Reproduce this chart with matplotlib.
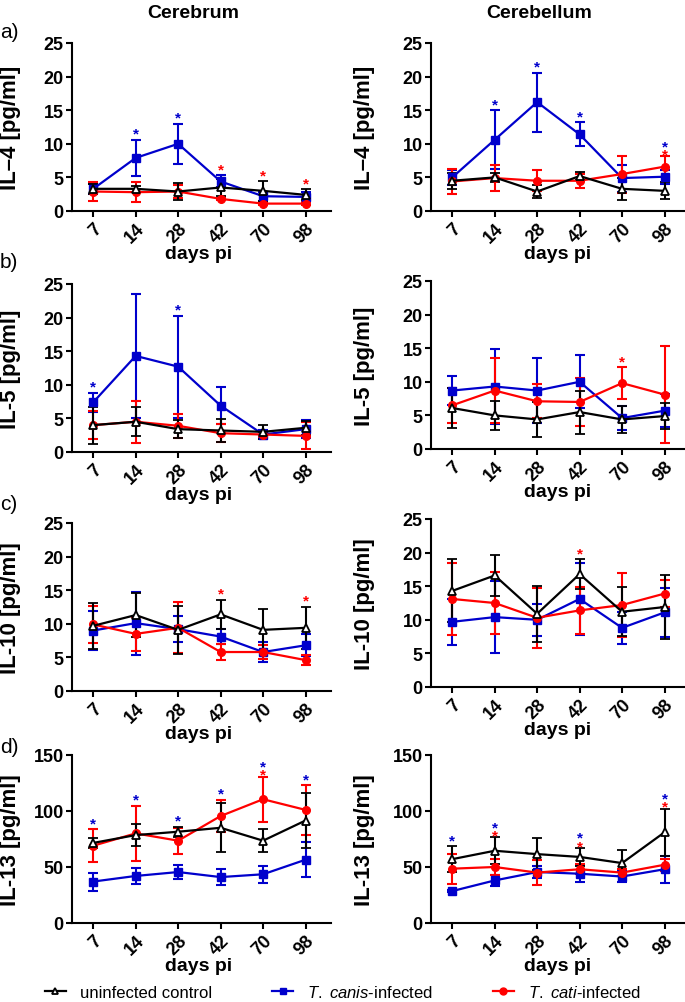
import matplotlib.pyplot as plt
from matplotlib.lines import Line2D
import numpy as np

plt.rcParams['font.family'] = ['Liberation Sans', 'DejaVu Sans']
plt.rcParams['mathtext.fontset'] = 'custom'
plt.rcParams['mathtext.rm'] = 'Liberation Sans'
plt.rcParams['mathtext.it'] = 'Liberation Sans:italic'

days = ['7', '14', '28', '42', '70', '98']

# IL-4, cerebrum
il4_cbr_ctrl = [3.3, 3.3, 2.9, 3.5, 3.0, 2.4]
il4_cbr_ctrl_sd = [0.7, 0.45, 1.2, 1.2, 1.45, 0.8]
il4_cbr_canis = [3.3, 7.9, 10.0, 4.4, 2.2, 2.1]
il4_cbr_canis_sd = [0.7, 2.7, 3.0, 0.9, 0.7, 0.7]
il4_cbr_cati = [2.9, 2.8, 2.9, 1.8, 1.1, 1.1]
il4_cbr_cati_sd = [1.35, 1.5, 1.0, 0.15, 0.2, 0.25]
il4_cbr_sig_canis = [1, 2]
il4_cbr_sig_cati = [3, 4, 5]

# IL-4, cerebellum
il4_cbl_ctrl = [4.5, 5.0, 2.9, 5.2, 3.3, 3.0]
il4_cbl_ctrl_sd = [1.2, 0.7, 1.0, 0.65, 1.6, 1.25]
il4_cbl_canis = [5.0, 10.6, 16.2, 11.4, 4.9, 5.1]
il4_cbl_canis_sd = [1.1, 4.4, 4.4, 1.8, 2.0, 1.05]
il4_cbl_cati = [4.4, 4.9, 4.5, 4.5, 5.5, 6.6]
il4_cbl_cati_sd = [1.9, 1.95, 1.55, 1.05, 2.75, 1.55]
il4_cbl_sig_canis = [1, 2, 3, 5]
il4_cbl_sig_cati = [5]

# IL-5, cerebrum
il5_cbr_ctrl = [4.0, 4.5, 3.4, 3.2, 3.0, 3.6]
il5_cbr_ctrl_sd = [2.75, 2.15, 1.35, 1.75, 1.0, 1.0]
il5_cbr_canis = [7.4, 14.3, 12.7, 6.9, 2.6, 3.4]
il5_cbr_canis_sd = [1.4, 9.2, 7.6, 2.75, 0.65, 1.3]
il5_cbr_cati = [4.0, 4.5, 3.9, 2.8, 2.6, 2.4]
il5_cbr_cati_sd = [2.1, 3.15, 1.75, 1.35, 0.4, 2.0]
il5_cbr_sig_canis = [0, 2]
il5_cbr_sig_cati = []

# IL-5, cerebellum
il5_cbl_ctrl = [6.1, 5.0, 4.4, 5.5, 4.4, 4.9]
il5_cbl_ctrl_sd = [3.0, 2.15, 2.6, 3.2, 1.95, 1.9]
il5_cbl_canis = [8.7, 9.3, 8.7, 10.0, 4.6, 5.7]
il5_cbl_canis_sd = [2.1, 5.6, 4.85, 3.95, 1.8, 2.45]
il5_cbl_cati = [6.5, 8.7, 7.1, 7.0, 9.8, 8.1]
il5_cbl_cati_sd = [2.65, 4.8, 2.5, 3.6, 2.35, 7.2]
il5_cbl_sig_canis = []
il5_cbl_sig_cati = [4]

# IL-10, cerebrum
il10_cbr_ctrl = [9.7, 11.3, 9.1, 11.4, 9.1, 9.4]
il10_cbr_ctrl_sd = [3.4, 3.25, 3.55, 2.2, 3.15, 3.15]
il10_cbr_canis = [9.0, 10.1, 9.2, 8.1, 5.8, 6.8]
il10_cbr_canis_sd = [2.9, 4.7, 1.9, 1.1, 1.55, 1.65]
il10_cbr_cati = [9.9, 8.5, 9.4, 5.8, 5.8, 4.6]
il10_cbr_cati_sd = [2.75, 2.55, 3.8, 1.2, 1.05, 0.75]
il10_cbr_sig_canis = []
il10_cbr_sig_cati = [3, 5]

# IL-10, cerebellum
il10_cbl_ctrl = [14.3, 16.6, 10.9, 16.8, 11.2, 11.9]
il10_cbl_ctrl_sd = [4.7, 3.1, 4.15, 2.2, 3.65, 4.75]
il10_cbl_canis = [9.7, 10.4, 10.0, 13.1, 8.8, 11.1]
il10_cbl_canis_sd = [3.4, 5.35, 2.35, 5.3, 2.4, 3.65]
il10_cbl_cati = [13.1, 12.5, 10.3, 11.4, 12.2, 13.9]
il10_cbl_cati_sd = [5.4, 4.65, 4.5, 3.5, 4.7, 2.05]
il10_cbl_sig_canis = []
il10_cbl_sig_cati = [3]

# IL-13, cerebrum
il13_cbr_ctrl = [71.5, 78.5, 81.5, 85.0, 73.5, 91.5]
il13_cbr_ctrl_sd = [4.5, 9.5, 4.5, 22.0, 10.5, 24.5]
il13_cbr_canis = [37.0, 42.0, 45.5, 41.0, 43.5, 56.5]
il13_cbr_canis_sd = [8.0, 7.0, 6.5, 7.0, 7.5, 15.5]
il13_cbr_cati = [69.0, 80.0, 73.5, 95.5, 110.5, 101.0]
il13_cbr_cati_sd = [14.5, 24.5, 11.5, 14.5, 20.0, 22.0]
il13_cbr_sig_canis = [0, 1, 2, 3, 4, 5]
il13_cbr_sig_cati = [4]

# IL-13, cerebellum
il13_cbl_ctrl = [57.0, 64.5, 61.5, 59.0, 53.5, 81.0]
il13_cbl_ctrl_sd = [11.5, 12.0, 14.5, 8.0, 11.5, 21.0]
il13_cbl_canis = [28.5, 38.0, 45.5, 44.0, 41.5, 48.0]
il13_cbl_canis_sd = [0.8, 5.0, 5.5, 7.5, 4.5, 12.0]
il13_cbl_cati = [48.5, 50.0, 45.0, 48.0, 45.0, 52.0]
il13_cbl_cati_sd = [13.5, 7.5, 11.0, 4.5, 3.0, 5.5]
il13_cbl_sig_canis = [0, 1, 3, 5]
il13_cbl_sig_cati = [1, 3, 5]

ylabels = ['IL\u20134 [pg/ml]', 'IL-5 [pg/ml]', 'IL-10 [pg/ml]', 'IL-13 [pg/ml]']
ymax = [25, 25, 25, 150]
ystep = [5, 5, 5, 50]
letters = ['a)', 'b)', 'c)', 'd)']

panels = [
    [(il4_cbr_ctrl, il4_cbr_ctrl_sd, il4_cbr_canis, il4_cbr_canis_sd, il4_cbr_cati, il4_cbr_cati_sd, il4_cbr_sig_canis, il4_cbr_sig_cati),
     (il4_cbl_ctrl, il4_cbl_ctrl_sd, il4_cbl_canis, il4_cbl_canis_sd, il4_cbl_cati, il4_cbl_cati_sd, il4_cbl_sig_canis, il4_cbl_sig_cati)],
    [(il5_cbr_ctrl, il5_cbr_ctrl_sd, il5_cbr_canis, il5_cbr_canis_sd, il5_cbr_cati, il5_cbr_cati_sd, il5_cbr_sig_canis, il5_cbr_sig_cati),
     (il5_cbl_ctrl, il5_cbl_ctrl_sd, il5_cbl_canis, il5_cbl_canis_sd, il5_cbl_cati, il5_cbl_cati_sd, il5_cbl_sig_canis, il5_cbl_sig_cati)],
    [(il10_cbr_ctrl, il10_cbr_ctrl_sd, il10_cbr_canis, il10_cbr_canis_sd, il10_cbr_cati, il10_cbr_cati_sd, il10_cbr_sig_canis, il10_cbr_sig_cati),
     (il10_cbl_ctrl, il10_cbl_ctrl_sd, il10_cbl_canis, il10_cbl_canis_sd, il10_cbl_cati, il10_cbl_cati_sd, il10_cbl_sig_canis, il10_cbl_sig_cati)],
    [(il13_cbr_ctrl, il13_cbr_ctrl_sd, il13_cbr_canis, il13_cbr_canis_sd, il13_cbr_cati, il13_cbr_cati_sd, il13_cbr_sig_canis, il13_cbr_sig_cati),
     (il13_cbl_ctrl, il13_cbl_ctrl_sd, il13_cbl_canis, il13_cbl_canis_sd, il13_cbl_cati, il13_cbl_cati_sd, il13_cbl_sig_canis, il13_cbl_sig_cati)],
]

BLUE = '#0000CC'
RED = '#FF0000'

W, H = 685, 1003
fig = plt.figure(figsize=(W / 100, H / 100), dpi=100)

# axes boxes in pixels: bottom edge of each row, left edge of each column
row_bottom = [[212, 453, 692, 924], [212, 450, 688, 924]]
col_left = [72, 431]
ax_w, ax_h = 259, 168

x = np.arange(len(days))
for r in range(4):
    for c in range(2):
        ctrl, ctrl_sd, canis, canis_sd, cati, cati_sd, sig_canis, sig_cati = panels[r][c]
        ax = fig.add_axes([col_left[c] / W, 1 - row_bottom[c][r] / H, ax_w / W, ax_h / H])
        common = dict(capsize=3.5, elinewidth=1.5, capthick=1.5, lw=1.6, clip_on=False)
        ax.errorbar(x, canis, yerr=canis_sd, fmt='-s', color=BLUE, ms=5.5, **common)
        ax.errorbar(x, cati, yerr=cati_sd, fmt='-o', color=RED, ms=5.5, **common)
        ax.errorbar(x, ctrl, yerr=ctrl_sd, fmt='-^', color='black', ms=6,
                    mfc='white', mec='black', mew=1.3, **common)

        tops = np.max([np.add(ctrl, ctrl_sd), np.add(canis, canis_sd), np.add(cati, cati_sd)], axis=0)
        for i in sig_canis:
            off = 4.5 if i in sig_cati else 1.5
            ax.annotate('*', (i, tops[i]), xytext=(0, off), textcoords='offset points',
                        ha='center', va='baseline', color=BLUE, fontsize=11, fontweight='bold')
        for i in sig_cati:
            off = -1.5 if i in sig_canis else 1.5
            ax.annotate('*', (i, tops[i]), xytext=(0, off), textcoords='offset points',
                        ha='center', va='baseline', color=RED, fontsize=11, fontweight='bold')

        ax.set_xlim(-0.5, 5.6)
        ax.set_ylim(0, ymax[r])
        ax.set_yticks(np.arange(0, ymax[r] + 1, ystep[r]))
        ax.set_xticks(x)
        ax.set_xticklabels(days, rotation=45, ha='right', rotation_mode='anchor')
        for s in ['top', 'right']:
            ax.spines[s].set_visible(False)
        for s in ['left', 'bottom']:
            ax.spines[s].set_linewidth(1.5)
        ax.tick_params(width=1.5, length=4, labelsize=13, pad=2)
        for lab in ax.get_xticklabels() + ax.get_yticklabels():
            lab.set_fontweight('bold')
        ax.set_ylabel(ylabels[r], fontsize=16, fontweight='bold')
        ax.yaxis.set_label_coords(-0.198 if c == 0 else -0.215, 0.5)
        ax.set_xlabel('days pi', fontsize=14, fontweight='bold')
        ax.xaxis.set_label_coords(0.49, -0.2)

fig.text(193 / W, 1 - 13 / H, 'Cerebrum', ha='center', va='center', fontsize=14, fontweight='bold')
fig.text(539 / W, 1 - 13 / H, 'Cerebellum', ha='center', va='center', fontsize=14, fontweight='bold')
for y, lt in zip([33, 263, 505, 748], letters):
    fig.text(0.0, 1 - y / H, lt, ha='left', va='center', fontsize=15)

handles = [
    Line2D([], [], color='black', marker='^', ms=5, mfc='white', mec='black', mew=1.3, lw=1.6),
    Line2D([], [], color=BLUE, marker='s', ms=5, lw=1.6),
    Line2D([], [], color=RED, marker='o', ms=5, lw=1.6),
]
fig.legend(handles, ['uninfected control', r'$\mathit{T.\ canis}$-infected', r'$\mathit{T.\ cati}$-infected'],
           loc='center', bbox_to_anchor=(0.5, 1 - 993 / H), ncol=3, frameon=False,
           fontsize=12, handlelength=1.3, handletextpad=0.8, columnspacing=3.6)

fig.savefig('out.png', dpi=100)
